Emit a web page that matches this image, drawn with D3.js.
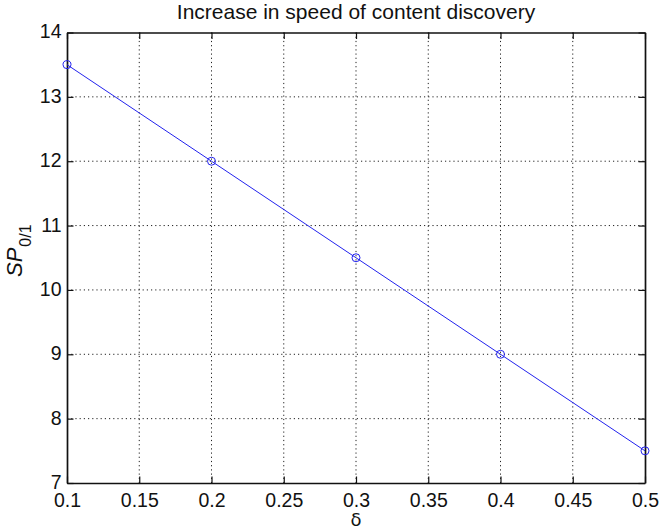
<!DOCTYPE html>
<html>
<head>
<meta charset="utf-8">
<script src="https://cdn.jsdelivr.net/npm/d3@7"></script>
<style>
  body { margin: 0; background: #fff; }
  svg { display: block; font-family: "Liberation Sans", Arial, sans-serif; }
</style>
</head>
<body>
<div id="chart"></div>
<script>
// data
const deltas = [0.1, 0.2, 0.3, 0.4, 0.5]
const speedup = [13.5, 12, 10.5, 9, 7.5]
const xTicks = [0.1, 0.15, 0.2, 0.25, 0.3, 0.35, 0.4, 0.45, 0.5]
const yTicks = [7, 8, 9, 10, 11, 12, 13, 14]

const width = 663
const height = 529
const margin = {top: 32.5, right: 18, bottom: 46, left: 67}
const innerW = width - margin.left - margin.right
const innerH = height - margin.top - margin.bottom
const tickFont = 19.5

const svg = d3.select('#chart')
  .append('svg')
  .attr('width', width)
  .attr('height', height)

const g = svg.append('g')
  .attr('transform', `translate(${margin.left},${margin.top})`)

const x = d3.scaleLinear().domain([0.1, 0.5]).range([0, innerW])
const y = d3.scaleLinear().domain([7, 14]).range([innerH, 0])

// dotted grid
g.append('g')
  .selectAll('line')
  .data(xTicks.slice(1, -1))
  .join('line')
  .attr('x1', d => x(d)).attr('x2', d => x(d))
  .attr('y1', 0).attr('y2', innerH)
  .attr('stroke', '#222').attr('stroke-width', 1)
  .attr('stroke-dasharray', '1.2,3')
g.append('g')
  .selectAll('line')
  .data(yTicks.slice(1, -1))
  .join('line')
  .attr('y1', d => y(d)).attr('y2', d => y(d))
  .attr('x1', 0).attr('x2', innerW)
  .attr('stroke', '#222').attr('stroke-width', 1)
  .attr('stroke-dasharray', '1.2,3')

// axes, ticks pointing inward
const tickLen = 6.5
const fmtX = d => String(d)
const axBottom = g.append('g')
  .attr('transform', `translate(0,${innerH})`)
  .call(d3.axisBottom(x).tickValues(xTicks).tickFormat(fmtX).tickSizeInner(-tickLen).tickSizeOuter(0))
const axTop = g.append('g')
  .call(d3.axisTop(x).tickValues(xTicks).tickFormat('').tickSizeInner(-tickLen).tickSizeOuter(0))
const axLeft = g.append('g')
  .call(d3.axisLeft(y).tickValues(yTicks).tickFormat(d3.format('d')).tickSizeInner(-tickLen).tickSizeOuter(0))
const axRight = g.append('g')
  .attr('transform', `translate(${innerW},0)`)
  .call(d3.axisRight(y).tickValues(yTicks).tickFormat('').tickSizeInner(-tickLen).tickSizeOuter(0))

for (const ax of [axBottom, axTop, axLeft, axRight]) {
  ax.select('.domain').attr('stroke', '#111').attr('stroke-width', 1.7)
  ax.selectAll('.tick line').attr('stroke', '#111').attr('stroke-width', 1.2)
  ax.selectAll('.tick text').attr('fill', '#111').attr('font-size', tickFont)
    .attr('font-family', '"Liberation Sans", Arial, sans-serif')
}
axBottom.selectAll('.tick text').attr('y', 23.5).attr('dy', 0)
axLeft.selectAll('.tick text').attr('x', -5.5).attr('dy', '0.28em')

// series
const pts = deltas.map((d, i) => [d, speedup[i]])
g.append('path')
  .datum(pts)
  .attr('fill', 'none')
  .attr('stroke', '#2222ee')
  .attr('stroke-width', 1)
  .attr('d', d3.line().x(d => x(d[0])).y(d => y(d[1])))
g.selectAll('circle.marker')
  .data(pts)
  .join('circle')
  .attr('class', 'marker')
  .attr('cx', d => x(d[0]))
  .attr('cy', d => y(d[1]))
  .attr('r', 4)
  .attr('fill', 'none')
  .attr('stroke', '#2222ee')
  .attr('stroke-width', 1)

// title and axis labels
svg.append('text')
  .attr('x', margin.left + innerW / 2)
  .attr('y', 19)
  .attr('text-anchor', 'middle')
  .attr('font-size', 21)
  .attr('fill', '#111')
  .text('Increase in speed of content discovery')

svg.append('text')
  .attr('x', margin.left + innerW / 2)
  .attr('y', 526)
  .attr('text-anchor', 'middle')
  .attr('font-family', '"DejaVu Sans", sans-serif')
  .attr('font-size', 18)
  .attr('fill', '#111')
  .text('δ')

const yl = svg.append('text')
  .attr('transform', 'translate(21.5,277) rotate(-90)')
  .attr('text-anchor', 'start')
  .attr('font-size', 22)
  .attr('fill', '#111')
yl.append('tspan').attr('font-style', 'italic').text('SP')
yl.append('tspan').attr('font-size', 16).attr('dy', 9).attr('dx', 1).text('0/1')
</script>
</body>
</html>
